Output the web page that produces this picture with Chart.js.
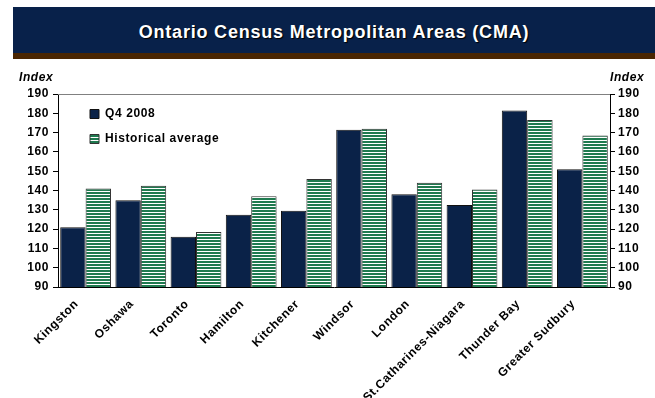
<!DOCTYPE html>
<html>
<head>
<meta charset="utf-8">
<script src="https://cdn.jsdelivr.net/npm/chart.js@4.4.1/dist/chart.umd.min.js"></script>
<style>
  html, body { margin: 0; padding: 0; background: #fff; }
  #wrap { position: relative; width: 655px; height: 398px; }
  #banner {
    position: absolute; left: 13px; top: 7px; width: 642px; height: 46px;
    background: #08214a; border-bottom: 6px solid #4a2602;
    color: #fff; font: bold 18px "Liberation Sans", Arial, sans-serif;
    letter-spacing: 0.8px; text-align: center; line-height: 50px;
    text-shadow: 1px 1px 1px #000;
  }
  canvas { position: absolute; left: 0; top: 0; }
</style>
</head>
<body>
<div id="wrap">
  <canvas id="c" width="655" height="398"></canvas>
  <div id="banner">Ontario Census Metropolitan Areas (CMA)</div>
</div>
<script>
const categories = ['Kingston', 'Oshawa', 'Toronto', 'Hamilton', 'Kitchener', 'Windsor',
  'London', 'St.Catharines-Niagara', 'Thunder Bay', 'Greater Sudbury'];
const q4_2008 = [121, 135, 116, 127.5, 129.5, 171.5, 138, 132.5, 181.5, 151];
const historicalAverage = [141, 142.5, 118.5, 137, 146, 172, 144, 140.5, 176.5, 168.5];
const yTicks = [90, 100, 110, 120, 130, 140, 150, 160, 170, 180, 190];

const FONT = '"Liberation Sans", Arial, sans-serif';
const SPACING = '0.6px';

// horizontal green stripes on white
function stripePattern() {
  const p = document.createElement('canvas');
  p.width = 4; p.height = 3;
  const g = p.getContext('2d');
  g.fillStyle = '#ffffff'; g.fillRect(0, 0, 4, 3);
  g.fillStyle = '#1f7a4f'; g.fillRect(0, 0, 4, 2);
  return document.getElementById('c').getContext('2d').createPattern(p, 'repeat');
}

const decor = {
  id: 'decor',
  beforeLayout(chart) { chart.ctx.letterSpacing = SPACING; },
  beforeDraw(chart) { chart.ctx.letterSpacing = SPACING; },
  afterLayout(chart) {
    // place the legend block in the upper-left corner of the plot
    const lg = chart.legend, a = chart.chartArea;
    if (!lg) return;
    const w = lg.width, h = lg.height;
    lg.left = a.left + 19; lg.top = a.top + 1;
    lg.right = lg.left + w; lg.bottom = lg.top + h;
  },
  afterDraw(chart) {
    const { ctx, chartArea: a } = chart;
    ctx.save();
    ctx.strokeStyle = '#808080'; ctx.lineWidth = 1;
    ctx.beginPath(); ctx.moveTo(a.left, a.top + 0.5); ctx.lineTo(a.right, a.top + 0.5); ctx.stroke();
    ctx.fillStyle = '#000';
    ctx.font = 'italic bold 12px ' + FONT;
    ctx.textBaseline = 'middle';
    ctx.textAlign = 'left';
    ctx.fillText('Index', 19, 78);
    ctx.fillText('Index', 610, 78);
    ctx.restore();
  }
};

new Chart(document.getElementById('c'), {
  type: 'bar',
  data: {
    labels: categories,
    datasets: [
      { label: 'Q4 2008', data: q4_2008, backgroundColor: '#0a2248',
        borderColor: '#111', borderWidth: 1 },
      { label: 'Historical average', data: historicalAverage, backgroundColor: stripePattern(),
        borderColor: '#333', borderWidth: 1 }
    ]
  },
  options: {
    responsive: false,
    animation: false,
    events: [],
    layout: { padding: { top: 94, left: 0, right: 0, bottom: 0 } },
    datasets: { bar: { categoryPercentage: 0.92, barPercentage: 1 } },
    plugins: {
      legend: {
        position: 'chartArea', align: 'start',
        labels: { boxWidth: 9, boxHeight: 9, padding: 13, color: '#000',
          font: { family: FONT, size: 12, weight: 'bold' } }
      },
      tooltip: { enabled: false }
    },
    scales: {
      x: {
        grid: { display: false },
        border: { display: true, color: '#000', width: 1 },
        ticks: { color: '#000', maxRotation: 45, minRotation: 45, autoSkip: false,
          labelOffset: -9, padding: 2,
          font: { family: FONT, size: 12, weight: 'bold' } },
        afterFit(s) { s.height = 111; }
      },
      y: {
        position: 'left', min: 90, max: 190,
        afterBuildTicks(s) { s.ticks = yTicks.map(v => ({ value: v })); },
        grid: { drawOnChartArea: false, color: '#000', tickLength: 5 },
        border: { display: true, color: '#000', width: 1 },
        ticks: { color: '#000', padding: 4, font: { family: FONT, size: 12, weight: 'bold' } },
        afterFit(s) { s.width = 58; }
      },
      y2: {
        position: 'right', min: 90, max: 190,
        afterBuildTicks(s) { s.ticks = yTicks.map(v => ({ value: v })); },
        grid: { drawOnChartArea: false, color: '#000', tickLength: 5 },
        border: { display: true, color: '#000', width: 1 },
        ticks: { color: '#000', padding: 3, font: { family: FONT, size: 12, weight: 'bold' } },
        afterFit(s) { s.width = 45; }
      }
    }
  },
  plugins: [decor]
});
</script>
</body>
</html>
